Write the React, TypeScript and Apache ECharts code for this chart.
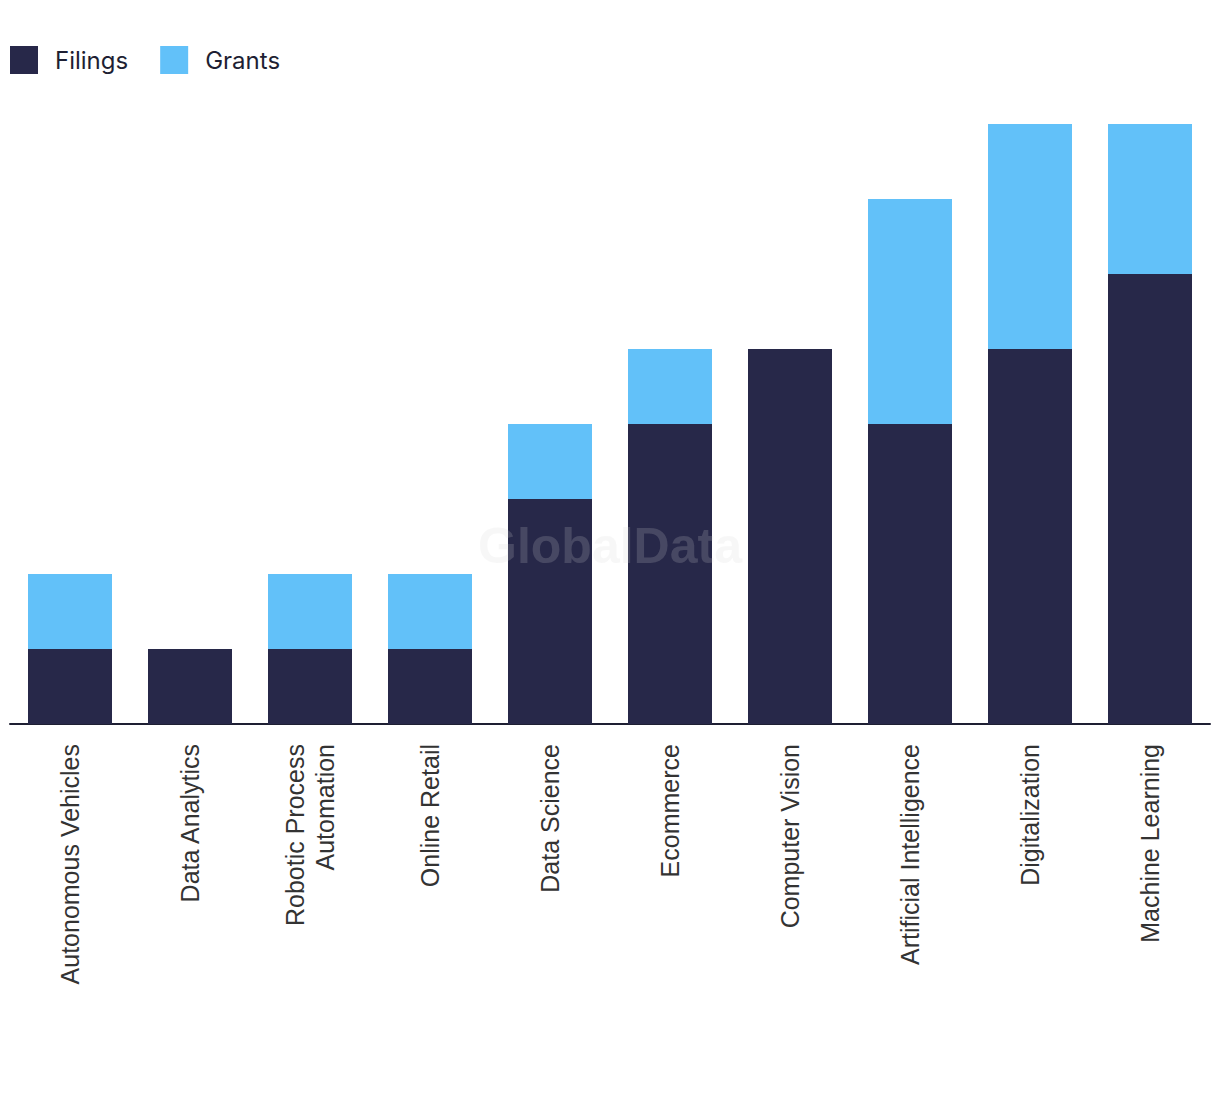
import React, { useEffect, useRef } from "react";
import * as echarts from "echarts";

const categories = [
  "Autonomous Vehicles",
  "Data Analytics",
  "Robotic Process\nAutomation",
  "Online Retail",
  "Data Science",
  "Ecommerce",
  "Computer Vision",
  "Artificial Intelligence",
  "Digitalization",
  "Machine Learning",
];
const filings = [1, 1, 1, 1, 3, 4, 5, 4, 5, 6];
const grants = [1, 0, 1, 1, 1, 1, 0, 3, 3, 2];

export default function App() {
  const ref = useRef<HTMLDivElement>(null);
  useEffect(() => {
    const chart = echarts.init(ref.current!, null, { renderer: "svg" });
    chart.setOption({
      animation: false,
      legend: {
        left: 5,
        top: 41,
        itemWidth: 28,
        itemHeight: 28,
        itemGap: 32,
        icon: "rect",
        textStyle: {
          fontSize: 24,
          color: "#1e1f33",
          fontFamily: "Inter, 'Liberation Sans', sans-serif",
          padding: [0, 0, 0, 12],
        },
        data: ["Filings", "Grants"],
      },
      grid: { left: 10, right: 10, top: 124, bottom: 370, containLabel: false },
      xAxis: {
        type: "category",
        data: categories,
        axisLine: { lineStyle: { color: "#1e1f33", width: 2 } },
        axisTick: { show: false },
        axisLabel: {
          rotate: 90,
          interval: 0,
          margin: 20,
          fontSize: 25,
          color: "#333",
          fontFamily: "'Liberation Sans', Arial, sans-serif",
          lineHeight: 30,
        },
      },
      yAxis: { type: "value", min: 0, max: 8, show: false, splitLine: { show: false } },
      series: [
        {
          name: "Filings",
          type: "bar",
          stack: "total",
          data: filings,
          barWidth: "70%",
          itemStyle: { color: "#272849" },
        },
        {
          name: "Grants",
          type: "bar",
          stack: "total",
          data: grants,
          barWidth: "70%",
          itemStyle: { color: "#62c1f9" },
        },
      ],
      graphic: [
        {
          type: "text",
          left: "center",
          top: 521,
          z: 100,
          style: {
            text: "GlobalData",
            fontSize: 50,
            fontWeight: "bold",
            fontFamily: "'Liberation Sans', Arial, sans-serif",
            fill: "rgba(212,212,212,0.19)",
          },
        },
      ],
    });
    return () => chart.dispose();
  }, []);
  return (
    <div
      ref={ref}
      style={{ position: "fixed", left: 0, top: 0, width: 1220, height: 1094, background: "#fff" }}
    />
  );
}
